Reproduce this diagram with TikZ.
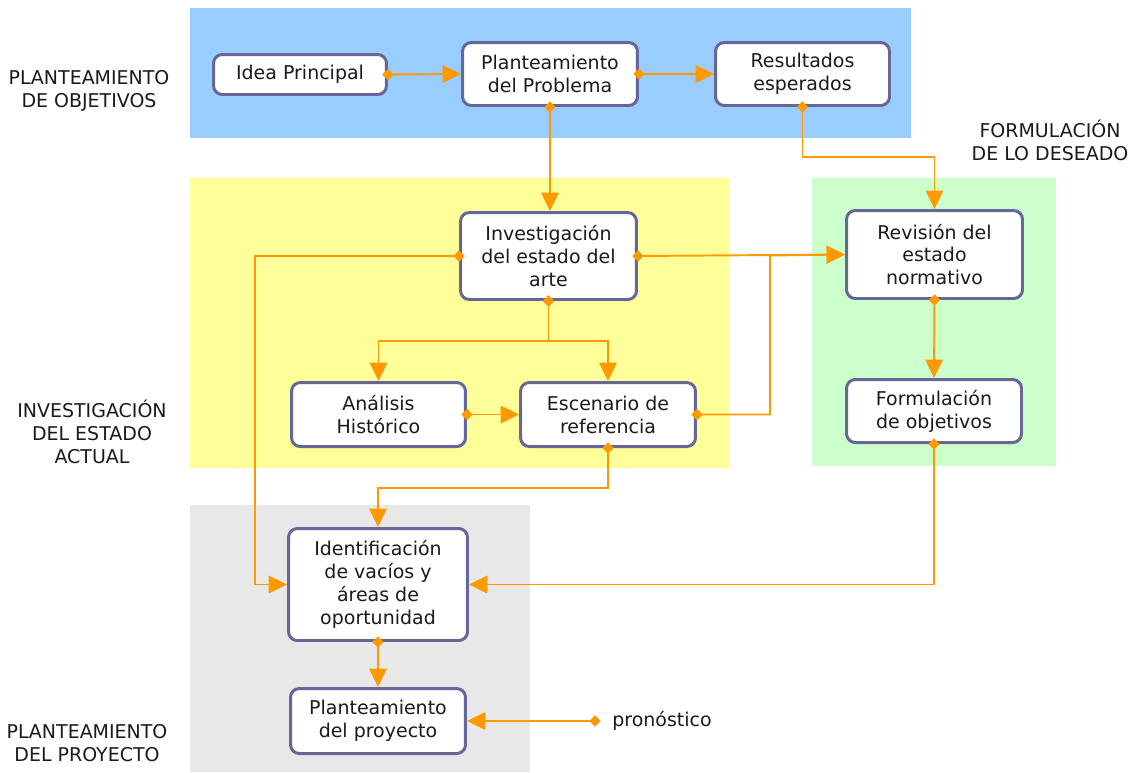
\documentclass[tikz,border=0pt]{standalone}
\usepackage{fontspec}
\setmainfont{DejaVu Sans}
\usetikzlibrary{arrows.meta}
\definecolor{bgblue}{HTML}{99CCFF}
\definecolor{bgyellow}{HTML}{FFFF99}
\definecolor{bggreen}{HTML}{CCFFCC}
\definecolor{bggray}{HTML}{E8E8E8}
\definecolor{boxborder}{HTML}{666699}
\definecolor{conn}{HTML}{FF9900}
\definecolor{txt}{HTML}{1A1A1A}
\tikzset{
  box/.style={draw=boxborder, line width=1.7pt, fill=white, rounded corners=5pt,
    align=center, text=txt, inner sep=0pt, font=\fontsize{10.8pt}{13pt}\selectfont},
  lbl/.style={align=center, text=txt, inner sep=0pt, font=\fontsize{10.8pt}{13pt}\selectfont},
  link/.style={draw=conn, line width=1.1pt,
    {Diamond[length=6.5pt,width=6.5pt]}-{Triangle[length=10.5pt,width=10pt]},
    shorten <=-3.25pt},
}
\begin{document}
\begin{tikzpicture}[x=0.02cm, y=-0.02cm]
\useasboundingbox (0,0) rectangle (1139,772);
% backgrounds
\fill[bgblue] (190,8) rectangle (911,138);
\fill[bgyellow] (190,178) rectangle (729,468);
\fill[bggreen] (812,178) rectangle (1056,466);
\fill[bggray] (190,505) rectangle (530,772);

% side labels
\node[lbl] (l1) at (89,91) {PLANTEAMIENTO\\DE OBJETIVOS};
\node[lbl] (l2) at (1050,140) {FORMULACIÓN\\DE LO DESEADO};
\node[lbl] (l3) at (92,432) {INVESTIGACIÓN\\DEL ESTADO\\ACTUAL};
\node[lbl] (l4) at (87,743) {PLANTEAMIENTO\\DEL PROYECTO};

% boxes
\node[box, minimum width=3.46cm, minimum height=0.80cm] (idea) at (300,74.5) {Idea Principal};
\node[box, minimum width=3.50cm, minimum height=1.26cm] (pp) at (550,74) {Planteamiento\\del Problema};
\node[box, minimum width=3.48cm, minimum height=1.26cm] (res) at (802.5,74) {Resultados\\esperados};
\node[box, minimum width=3.52cm, minimum height=1.74cm] (inv) at (548.5,256) {Investigación\\del estado del\\arte};
\node[box, minimum width=3.52cm, minimum height=1.76cm] (rev) at (934.5,254.5) {Revisión del\\estado\\normativo};
\node[box, minimum width=3.50cm, minimum height=1.26cm] (form) at (934,411) {Formulación\\de objetivos};
\node[box, minimum width=3.48cm, minimum height=1.28cm] (ana) at (378.5,414.5) {Análisis\\Histórico};
\node[box, minimum width=3.50cm, minimum height=1.28cm] (esc) at (608,414.5) {Escenario de\\referencia};
\node[box, minimum width=3.58cm, minimum height=2.24cm] (iden) at (378,584.5) {Identificación\\de vacíos y\\áreas de\\oportunidad};
\node[box, minimum width=3.50cm, minimum height=1.30cm] (proy) at (378,721) {Planteamiento\\del proyecto};

% helper coordinates
\coordinate (yres) at (0,157);
\coordinate (jx) at (770,255.5);
\coordinate (xinv) at (255,256);
\coordinate (yesc) at (0,488);
\coordinate (pron) at (595,721);
\node[lbl, anchor=west] (prontxt) at (612,721) {pronóstico};

% connectors
\draw[link] (idea.east) -- (pp.west);
\draw[link] (pp.east) -- (res.west);
\draw[link] (pp.south) -- (pp.south |- inv.north);
\draw[link] (res.south) -- (res.south |- yres) -| (rev.north);
\draw[link] (inv.east) -- (rev.west);
\draw[link] (esc.east) -| (jx) -- (rev.west);
\draw[link] (inv.west) -- (xinv) |- (iden.west);
\draw[link] (inv.south) -- ++(0,40) -| (ana.north);
\draw[link] (inv.south) -- ++(0,40) -| (esc.north);
\draw[link] (ana.east) -- (esc.west);
\draw[link] (esc.south) -- (esc.south |- yesc) -| (iden.north);
\draw[link] (rev.south) -- (form.north);
\draw[link] (form.south) |- (iden.east);
\draw[link] (iden.south) -- (proy.north);
\draw[link] (pron) -- (proy.east);
\end{tikzpicture}
\end{document}
